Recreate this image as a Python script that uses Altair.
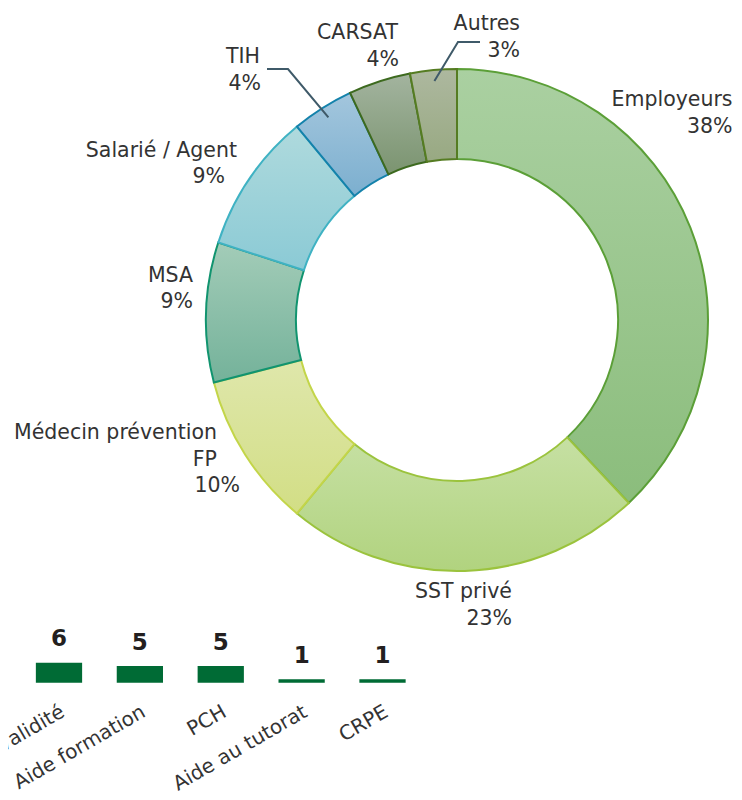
import math
import altair as alt
import pandas as pd

# ---------------- data ----------------
categories = ["Employeurs", "SST privé", "Médecin prévention FP", "MSA",
              "Salarié / Agent", "TIH", "CARSAT", "Autres"]
shares = [38, 23, 10, 9, 9, 4, 4, 3]
name_text = ["Employeurs", "SST privé", "Médecin prévention\nFP", "MSA",
             "Salarié / Agent", "TIH", "CARSAT", "Autres"]

bar_categories = ["Pension invalidité", "Aide formation", "PCH", "Aide au tutorat", "CRPE"]
bar_values = [6, 5, 5, 1, 1]

# ---------------- styles ----------------
fill_top = ["#aad0a1", "#c6e0a3", "#dfe7ab", "#a3ccb8", "#afdadd", "#a3c6dd", "#a3b49f", "#adb89f"]
fill_bottom = ["#8bbd7c", "#b1d37f", "#d2de85", "#74b29a", "#8bcad5", "#7cafcf", "#7b9470", "#98a982"]
strokes = ["#5b9f37", "#9bc33d", "#c3d549", "#11946f", "#3fb2c3", "#1482ab", "#3d6a1f", "#557c22"]
# label layout: (dx, dy, shift of the percentage line)
label_layout = {
    "Employeurs": (15.2, -126.9, 0),
    "SST privé": (46.2, -17.4, 0),
    "Médecin prévention FP": (-3.6, -47.0, 23),
    "MSA": (15.9, -45.7, 0),
    "Salarié / Agent": (11.6, -22.1, -12),
    "TIH": (-47.0, -36.1, 1),
    "CARSAT": (27.5, -30.7, 1),
    "Autres": (89.3, -27.2, 0),
}
FONT = "DejaVu Sans"
TXT = "#333333"
FS = 20.5
LH = 26.5
CX, CY = 449, 312
R_OUT, R_IN, R_LAB = 251, 161, 280
W, H = 726, 784

# ---------------- tables ----------------
starts, acc = [], 0
for s in shares:
    starts.append(acc)
    acc += s
df = pd.DataFrame({
    "cat": categories,
    "share": shares,
    "start": starts,
    "end": [a + b for a, b in zip(starts, shares)],
    "name": name_text,
    "pct": [f"{s}%" for s in shares],
})
df["mid"] = (df["start"] + df["end"]) / 2

bdf = pd.DataFrame({"cat": bar_categories, "val": bar_values})

theta_scale = alt.Scale(domain=[0, 100], range=[0, 2 * math.pi])

layers = []
for i, cat in enumerate(categories):
    grad = alt.Gradient(
        gradient="linear",
        stops=[alt.GradientStop(color=fill_top[i], offset=0),
               alt.GradientStop(color=fill_bottom[i], offset=1)],
        x1=0, x2=0, y1=0, y2=1,
    )
    layers.append(
        alt.Chart(df).transform_filter(alt.FieldEqualPredicate(field="cat", equal=cat))
        .mark_arc(radius=R_OUT, radius2=R_IN, fill=grad, stroke=strokes[i], strokeWidth=2)
        .encode(theta=alt.Theta("start:Q", scale=theta_scale, stack=None),
                theta2="end:Q",
                x=alt.value(CX), y=alt.value(CY))
    )

# leader lines (TIH, Autres): start inside slice, elbow and end near label
leader_rows = []
leader_layout = {"TIH": [(280, 61), (259, 61)], "Autres": [(450, 34), (472, 34)]}
for cat, pts in leader_layout.items():
    m = float(df.loc[df.cat == cat, "mid"].iloc[0]) / 100 * 2 * math.pi
    r = 240
    x0, y0 = CX + r * math.sin(m), CY - r * math.cos(m)
    seq = [(x0, y0)] + pts
    for k, (xx, yy) in enumerate(seq):
        leader_rows.append({"cat": cat, "k": k, "px": xx, "py": yy})
ldf = pd.DataFrame(leader_rows)
layers.append(
    alt.Chart(ldf).mark_line(color="#3f5a69", strokeWidth=2)
    .encode(x=alt.X("px:Q", scale=None), y=alt.Y("py:Q", scale=None),
            detail="cat:N", order="k:Q")
)

for cat in categories:
    dx, dy, shift = label_layout[cat]
    nlines = name_text[categories.index(cat)].count("\n") + 1
    base = alt.Chart(df).transform_filter(alt.FieldEqualPredicate(field="cat", equal=cat))
    enc = dict(theta=alt.Theta("mid:Q", scale=theta_scale, stack=None),
               radius=alt.value(R_LAB), x=alt.value(CX), y=alt.value(CY))
    layers.append(
        base.mark_text(align="right", baseline="top", font=FONT, fontSize=FS, color=TXT,
                       lineBreak="\n", lineHeight=LH, dx=dx, dy=dy)
        .encode(text="name:N", **enc)
    )
    layers.append(
        base.mark_text(align="right", baseline="top", font=FONT, fontSize=FS, color=TXT,
                       dx=dx + shift, dy=dy + LH * nlines)
        .encode(text="pct:N", **enc)
    )

# ---------------- bar chart (partially off-page) ----------------
x_scale = alt.Scale(domain=bar_categories, range=[10.55, 414.95], paddingInner=0.428, paddingOuter=0.214)
y_scale = alt.Scale(domain=[0, 10], range=[674.7, 641.4])

layers.append(
    alt.Chart(bdf).mark_bar(color="#006b35")
    .encode(x=alt.X("cat:N", scale=x_scale, axis=None, sort=bar_categories),
            y=alt.Y("val:Q", scale=y_scale, axis=None))
)
layers.append(
    alt.Chart(bdf).mark_text(baseline="alphabetic", dy=-16.5, font=FONT, fontSize=23,
                             fontWeight="bold", color="#231f20")
    .encode(x=alt.X("cat:N", scale=x_scale, axis=None, sort=bar_categories),
            y=alt.Y("val:Q", scale=y_scale, axis=None),
            text="val:Q")
)
layers.append(
    alt.Chart(bdf).mark_text(angle=330, align="right", baseline="alphabetic", font=FONT,
                             fontSize=20, color=TXT)
    .encode(x=alt.X("cat:N", scale=x_scale, axis=None, sort=bar_categories, bandPosition=0.65),
            y=alt.value(707.7),
            text="cat:N")
)

chart = alt.layer(*layers).properties(
    width=W, height=H, padding=0,
    autosize=alt.AutoSizeParams(type="none"),
).configure_view(stroke=None)

chart.save("out.html", embed_options={"renderer": "svg", "actions": False})
